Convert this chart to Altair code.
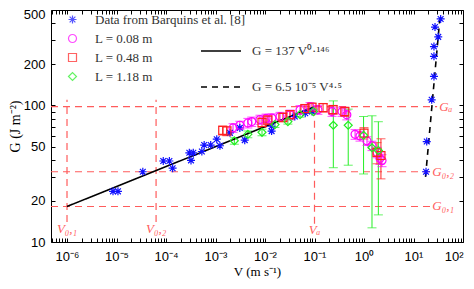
import altair as alt
import pandas as pd

# ---------------- data ----------------
series_names = ["Data from Barquins et al. [8]", "L = 0.08 m", "L = 0.48 m", "L = 1.18 m"]
series_colors = ["#1010ff", "#ff00ff", "#ff2020", "#22ee22"]
asterisk = "M0,-1L0,1M-1,0L1,0M-0.72,-0.72L0.72,0.72M-0.72,0.72L0.72,-0.72"
series_shapes = [asterisk, "circle", "square", "diamond"]

barq_V = [8.5e-6, 1.07e-5, 3.4e-5, 8.8e-5, 1.17e-4, 1.36e-4, 2.96e-4, 3.56e-4, 3.2e-4,
          5.3e-4, 5.9e-4, 8.0e-4, 1.06e-3, 1.23e-3, 1.96e-3, 3.1e-3, 3.9e-3, 0.0136,
          0.0136, 0.040, 0.065, 0.089,
          17.9, 18.5, 23.3, 25.9, 25.9, 25.9, 31.6, 27.2, 35.4]
barq_G = [23.5, 23.5, 32.7, 39.2, 39.2, 34.7, 45, 45, 39.6,
          46, 51.3, 51.3, 56.6, 50.7, 63, 68.5, 55.7, 64.9,
          70.4, 83, 87.7, 90.2,
          32.7, 54.4, 110, 163, 229, 270, 318, 375, 430]

l008_V = [2.26e-3, 3.1e-3, 4.5e-3, 5.4e-3, 7.9e-3, 0.0105, 0.0138, 0.0201, 0.032, 0.051,
          0.081, 0.117, 0.226, 0.36, 0.45, 0.66, 0.83, 1.15, 1.45, 1.83, 2.1, 2.31]
l008_G = [68.5, 71.6, 74.4, 76.2, 78.8, 80.4, 80.8, 83, 85.4, 92.7,
          97.9, 93.1, 90.2, 90.2, 85.4, 61.5, 59.8, 55, 50.7, 45.4, 41, 39.6]
l008_err = [5, 5, 6, 6, 6, 6, 6, 6, 7, 7, 7, 7, 7, 7, 7, 5, 5, 4, 4, 4, 4, 4]

l048_V = [1.4e-3, 1.7e-3, 8.7e-3, 0.0114, 0.023, 0.032, 0.064, 0.089, 0.149, 0.237,
          0.41, 1.0, 1.83, 2.2]
l048_G = [65.6, 65, 75, 78, 81.7, 85.6, 94.7, 97, 96.4, 93.1,
          90.2, 62.8, 45.4, 43]
l048_err = [5, 5, 6, 6, 6, 6, 7, 7, 7, 7, 7, 6, 8, 14]

l118_V = [2.4e-3, 4.5e-3, 8.7e-3, 0.0159, 0.029, 0.051, 0.095, 0.24, 0.48, 0.98, 1.45, 1.95]
l118_G = [55.1, 61.4, 63.6, 72.4, 76.2, 85.6, 90.2, 71.6, 71.6, 60.4, 49, 46.7]
l118_lo = [52, 58, 60, 69, 73, 82, 87, 35, 36.5, 31.5, 12.7, 15.8]
l118_hi = [58, 65, 67, 76, 80, 89, 94, 108, 94, 83, 84, 76]

fit_names = ["G = 137 V⁰·¹⁴⁶", "G = 6.5 10⁻⁵ V⁴·⁵"]
fit1_V = [1e-6, 0.1]
fit1_G = [18.2, 97.9]
fit2_V = [17.5, 34]
fit2_G = [30, 430]

hline_G = [98, 32.7, 18.2]
hline_Vend = [30, 22, 22]
hline_labels = ["Gₐ", "G₀,₂", "G₀,₁"]
hline_label_V = [33, 24, 24]

vline_V = [1e-6, 6.3e-5, 0.1]
vline_Gbot = [14, 14, 13.6]
vline_Gtop = [110, 110, 98]
vline_labels = ["V₀,₁", "V₀,₂", "Vₐ"]
vline_label_G = [12.4, 12.4, 12.3]

x_major = [1e-6, 1e-5, 1e-4, 1e-3, 1e-2, 1e-1, 1e0, 1e1, 1e2]
x_major_labels = ["10⁻⁶", "10⁻⁵", "10⁻⁴", "10⁻³", "10⁻²", "10⁻¹", "10⁰", "10¹", "10²"]
y_major = [10, 20, 50, 100, 200, 500]
y_minor = [30, 40, 60, 70, 80, 90, 300, 400]
X_DOMAIN = [4.75e-7, 100]
Y_DOMAIN = [10, 500]

RED = "#ff5c5c"
SERIF = "Liberation Serif"
SANS = "Liberation Sans"

# ---------------- tables ----------------
x_minor = [k * e for e in [1e-7, 1e-6, 1e-5, 1e-4, 1e-3, 1e-2, 1e-1, 1e0, 1e1]
           for k in range(2, 10) if X_DOMAIN[0] <= k * e <= X_DOMAIN[1]]
x_ticks = sorted(x_major + x_minor)
y_ticks = sorted(y_major + y_minor)

x_expr = "".join(f"datum.value == {v!r} ? '{lab}' : " for v, lab in zip(x_major, x_major_labels)) + "''"
y_expr = "indexof(" + str(y_major) + ", datum.value) >= 0 ? datum.label : ''"

scatter_df = pd.concat([
    pd.DataFrame({"V": barq_V, "G": barq_G, "series": series_names[0]}),
    pd.DataFrame({"V": l008_V, "G": l008_G, "series": series_names[1]}),
    pd.DataFrame({"V": l048_V, "G": l048_G, "series": series_names[2]}),
    pd.DataFrame({"V": l118_V, "G": l118_G, "series": series_names[3]}),
], ignore_index=True)

err_df = pd.concat([
    pd.DataFrame({"V": l008_V, "lo": [g - e for g, e in zip(l008_G, l008_err)],
                  "hi": [g + e for g, e in zip(l008_G, l008_err)], "col": series_colors[1]}),
    pd.DataFrame({"V": l048_V, "lo": [g - e for g, e in zip(l048_G, l048_err)],
                  "hi": [g + e for g, e in zip(l048_G, l048_err)], "col": series_colors[2]}),
    pd.DataFrame({"V": l118_V, "lo": l118_lo, "hi": l118_hi, "col": series_colors[3]}),
], ignore_index=True)

fit_df = pd.concat([
    pd.DataFrame({"V": fit1_V, "G": fit1_G, "fit": fit_names[0]}),
    pd.DataFrame({"V": fit2_V, "G": fit2_G, "fit": fit_names[1]}),
], ignore_index=True)

hl_df = pd.DataFrame({"V": [X_DOMAIN[0]] * 3, "V2": hline_Vend, "G": hline_G,
                      "lab": hline_labels, "LV": hline_label_V})
vl_df = pd.DataFrame({"V": vline_V, "G": vline_Gbot, "G2": vline_Gtop,
                      "lab": vline_labels, "LG": vline_label_G})

xs = alt.Scale(type="log", domain=X_DOMAIN, nice=False)
ys = alt.Scale(type="log", domain=Y_DOMAIN, nice=False)

ax_bottom = alt.Axis(orient="bottom", values=x_ticks, labelExpr=x_expr, tickSize=4, offset=-4,
                     domain=False, grid=False, labelPadding=8, labelFont=SANS, labelFontSize=13,
                     labelColor="black", tickColor="black", labelOverlap=False, labelFlush=1,
                     title="V (m s⁻¹)", titleFont=SERIF, titleFontSize=13, titleFontWeight="normal",
                     titleColor="black", titlePadding=2)
ax_left = alt.Axis(orient="left", values=y_ticks, labelExpr=y_expr, tickSize=4, offset=-4,
                   domain=False, grid=False, labelPadding=6, labelFont=SANS, labelFontSize=13,
                   labelColor="black", tickColor="black", labelOverlap=False, labelFlush=False,
                   labelOffset=alt.ExprRef("datum.value == 500 ? 4 : 0"),
                   title="G (J m⁻²)", titleFont=SERIF, titleFontSize=14, titleFontWeight="normal",
                   titleColor="black", titlePadding=1)
ax_top = alt.Axis(orient="top", values=x_ticks, labels=False, tickSize=4, offset=-4, domain=False,
                  grid=False, tickColor="black", title=None)
ax_right = alt.Axis(orient="right", values=y_ticks, labels=False, tickSize=4, offset=-4, domain=False,
                    grid=False, tickColor="black", title=None)

hrules = alt.Chart(hl_df).mark_rule(color=RED, strokeDash=[7, 5], strokeWidth=1.2).encode(
    x=alt.X("V:Q", scale=xs, axis=None), x2="V2:Q", y=alt.Y("G:Q", scale=ys, axis=None))
htext = alt.Chart(hl_df).mark_text(color=RED, font=SERIF, fontStyle="italic", fontSize=13,
                                   align="left", baseline="middle").encode(
    x=alt.X("LV:Q", scale=xs, axis=None), y=alt.Y("G:Q", scale=ys, axis=None), text="lab:N")
vrules = alt.Chart(vl_df).mark_rule(color=RED, strokeDash=[7, 5], strokeWidth=1.2).encode(
    x=alt.X("V:Q", scale=xs, axis=None), y=alt.Y("G:Q", scale=ys, axis=None), y2="G2:Q")
vtext = alt.Chart(vl_df).mark_text(color=RED, font=SERIF, fontStyle="italic", fontSize=13,
                                   align="center", baseline="middle").encode(
    x=alt.X("V:Q", scale=xs, axis=None), y=alt.Y("LG:Q", scale=ys, axis=None), text="lab:N")

err_rules = alt.Chart(err_df).mark_rule(strokeWidth=1).encode(
    x=alt.X("V:Q", scale=xs, axis=None), y=alt.Y("lo:Q", scale=ys, axis=None), y2="hi:Q",
    color=alt.Color("col:N", scale=None))
err_lo = alt.Chart(err_df).mark_tick(orient="horizontal", size=9, thickness=1).encode(
    x=alt.X("V:Q", scale=xs, axis=None), y=alt.Y("lo:Q", scale=ys, axis=None),
    color=alt.Color("col:N", scale=None))
err_hi = alt.Chart(err_df).mark_tick(orient="horizontal", size=9, thickness=1).encode(
    x=alt.X("V:Q", scale=xs, axis=None), y=alt.Y("hi:Q", scale=ys, axis=None),
    color=alt.Color("col:N", scale=None))

fits = alt.Chart(fit_df).mark_line(color="black", strokeWidth=1.6).encode(
    x=alt.X("V:Q", scale=xs, axis=ax_top), y=alt.Y("G:Q", scale=ys, axis=ax_right),
    strokeDash=alt.StrokeDash("fit:N", scale=alt.Scale(domain=fit_names, range=[[1, 0], [6, 5]]),
                              legend=alt.Legend(orient="none", legendX=149, legendY=20, title=None,
                                                symbolType="stroke", symbolSize=1600,
                                                symbolStrokeWidth=1.5, symbolStrokeColor="black",
                                                labelFont=SERIF, labelFontSize=13, labelColor="#333",
                                                labelOffset=10, rowPadding=8, padding=0,
                                                labelLimit=300)))

scatter_legend = alt.Legend(orient="none", legendX=15, legendY=3, title=None, symbolSize=64,
                            symbolStrokeWidth=1.2, labelFont=SERIF, labelFontSize=13,
                            labelColor="#333", labelOffset=16, rowPadding=5, padding=0,
                            labelLimit=300)
scatter = alt.Chart(scatter_df).mark_point(filled=False, size=64, strokeWidth=1.2, opacity=1).encode(
    x=alt.X("V:Q", scale=xs, axis=ax_bottom), y=alt.Y("G:Q", scale=ys, axis=ax_left),
    color=alt.Color("series:N", scale=alt.Scale(domain=series_names, range=series_colors),
                    legend=scatter_legend),
    shape=alt.Shape("series:N", scale=alt.Scale(domain=series_names, range=series_shapes),
                    legend=scatter_legend))

chart = alt.layer(hrules, vrules, htext, vtext, err_rules, err_lo, err_hi, fits, scatter).resolve_axis(
    x="independent", y="independent"
).properties(
    width=412, height=232, autosize="none",
    padding={"left": 43, "top": 2, "right": 2, "bottom": 39},
    background="white",
).configure_view(stroke="black", strokeWidth=1)

chart.save("out.html", embed_options={"renderer": "svg", "actions": False})
